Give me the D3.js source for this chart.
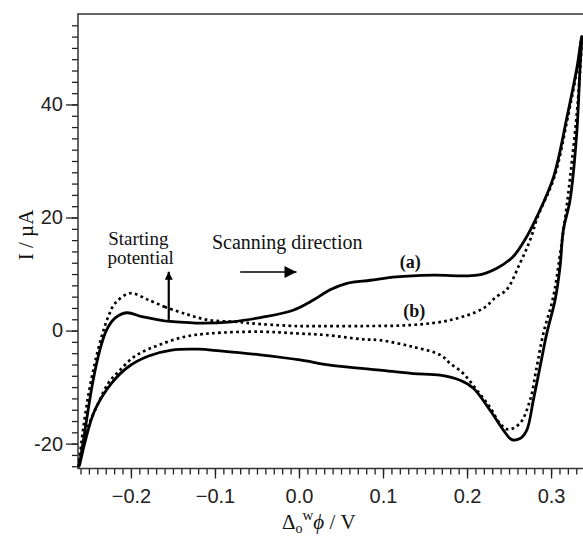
<!DOCTYPE html>
<html>
<head>
<meta charset="utf-8">
<script src="https://cdn.jsdelivr.net/npm/d3@7"></script>
<style>
  body { margin: 0; background: #fff; }
  .tick text { font-family: "Liberation Sans", Arial, sans-serif; font-size: 20px; fill: #222; }
  .serif { font-family: "Liberation Serif", "Times New Roman", serif; fill: #111; }
</style>
</head>
<body>
<svg id="chart" width="583" height="536"></svg>
<script>
/* =========================
   DATA  (potential V, current µA)
========================= */
// (a) solid loop, starting at the starting potential, forward then reverse
const curveA = [
  [-0.160, 1.7], [-0.136, 1.45], [-0.116, 1.3], [-0.080, 1.55], [-0.046, 2.3],
  [-0.007, 3.6], [0.017, 5.4], [0.037, 7.2], [0.057, 8.35], [0.085, 8.9],
  [0.116, 9.5], [0.160, 9.8], [0.212, 9.8], [0.235, 11.0], [0.255, 13.1],
  [0.271, 16.6], [0.283, 20.1], [0.303, 27.2], [0.319, 37.8], [0.331, 46.7],
  [0.3365, 52.0],
  [0.3345, 46.7], [0.3306, 35.0], [0.3226, 23.1], [0.3146, 17.8], [0.3107, 11.3],
  [0.3048, 5.4], [0.2949, -0.5], [0.2869, -6.4], [0.2789, -12.3], [0.2711, -17.6],
  [0.263, -19.1], [0.2532, -19.3], [0.2432, -17.6], [0.2274, -14.1], [0.2075, -10.2],
  [0.1917, -8.8], [0.1679, -7.9], [0.136, -7.6], [0.0964, -7.0], [0.0369, -6.1],
  [0.0012, -5.2], [-0.0464, -4.3], [-0.094, -3.6], [-0.120, -3.3], [-0.1515, -3.45],
  [-0.179, -4.5], [-0.203, -6.4], [-0.223, -9.3], [-0.243, -14.1], [-0.255, -19.9],
  [-0.2615, -24.0],
  [-0.257, -19.9], [-0.251, -14.1], [-0.245, -8.8], [-0.237, -3.45], [-0.229, 0.1],
  [-0.219, 2.2], [-0.205, 3.15], [-0.187, 2.45], [-0.160, 1.7]
];

// (b) dotted loop
const curveB = [
  [-0.160, 4.2], [-0.136, 3.0], [-0.108, 1.86], [-0.076, 1.56], [-0.046, 1.15],
  [-0.003, 0.8], [0.013, 0.8], [0.0765, 0.8], [0.132, 0.97], [0.180, 1.86],
  [0.219, 3.9], [0.235, 6.0], [0.247, 7.2], [0.263, 11.9], [0.275, 16.0],
  [0.284, 20.1], [0.304, 27.2], [0.320, 37.8], [0.3315, 46.7], [0.3365, 52.0],
  [0.332, 40.8], [0.325, 30.2], [0.318, 21.3], [0.3107, 13.5], [0.3027, 6.0],
  [0.2908, -0.5], [0.283, -6.4], [0.275, -12.3], [0.263, -16.4], [0.249, -17.5],
  [0.239, -16.4], [0.227, -13.5], [0.2115, -10.5], [0.1956, -7.6], [0.1798, -5.8],
  [0.168, -4.3], [0.136, -2.9], [0.0964, -1.7], [0.0765, -1.56], [0.033, -0.8],
  [-0.003, -0.5], [-0.046, -0.2], [-0.106, -0.5], [-0.136, -1.1], [-0.1675, -2.6],
  [-0.195, -4.5], [-0.215, -7.3], [-0.227, -9.3], [-0.239, -12.9], [-0.251, -17.0],
  [-0.2587, -21.2], [-0.2625, -24.0],
  [-0.261, -22.3], [-0.257, -17.6], [-0.251, -11.7], [-0.243, -5.8], [-0.235, -1.1],
  [-0.227, 2.45], [-0.219, 4.8], [-0.201, 6.6], [-0.179, 5.4], [-0.160, 4.2]
];

const xMajor = [-0.2, -0.1, 0.0, 0.1, 0.2, 0.3];
const xMinor = d3.range(-26, 34).map(d => d / 100);
const yMajor = [-20, 0, 20, 40];
const yMinor = d3.range(-24, 56, 2);

const startPotential = -0.155;

/* =========================
   SETUP
========================= */
const svg = d3.select("#chart");
const mLeft = 78, mRight = 583, mTop = 14, mBottom = 468.5;

const x = d3.scaleLinear().domain([-0.263, 0.338]).range([mLeft, mRight]);
const y = d3.scaleLinear().domain([-24.4, 56]).range([mBottom, mTop]);

/* ===== AXES ===== */
svg.append("g")
  .attr("transform", `translate(0,${mBottom})`)
  .call(d3.axisBottom(x).tickValues(xMinor).tickSize(6).tickFormat(""));
svg.append("g")
  .attr("transform", `translate(0,${mBottom})`)
  .call(d3.axisBottom(x).tickValues(xMajor).tickSize(10).tickPadding(10)
    .tickFormat(d3.format(".1f")));

svg.append("g")
  .attr("transform", `translate(${mLeft},0)`)
  .call(d3.axisLeft(y).tickValues(yMinor).tickSize(6).tickFormat(""));
svg.append("g")
  .attr("transform", `translate(${mLeft},0)`)
  .call(d3.axisLeft(y).tickValues(yMajor).tickSize(12).tickPadding(3)
    .tickFormat(d => d));

svg.selectAll(".domain").remove();
svg.selectAll(".tick line").attr("stroke", "#222").attr("stroke-width", 1.3);

// frame
svg.append("rect")
  .attr("x", mLeft).attr("y", mTop)
  .attr("width", mRight - mLeft + 5).attr("height", mBottom - mTop)
  .attr("fill", "none").attr("stroke", "#333").attr("stroke-width", 1.5);

/* =========================
   CURVES
========================= */
const line = d3.line()
  .x(d => x(d[0]))
  .y(d => y(d[1]))
  .curve(d3.curveCatmullRom.alpha(0.5));

svg.append("path")
  .datum(curveB)
  .attr("d", line)
  .attr("fill", "none")
  .attr("stroke", "#000")
  .attr("stroke-width", 2.7)
  .attr("stroke-dasharray", "2.7,3.3");

svg.append("path")
  .datum(curveA)
  .attr("d", line)
  .attr("fill", "none")
  .attr("stroke", "#000")
  .attr("stroke-width", 2.8)
  .attr("stroke-linejoin", "round");

/* =========================
   ANNOTATIONS
========================= */
const defs = svg.append("defs");
defs.append("marker")
  .attr("id", "head")
  .attr("viewBox", "0 0 10 10")
  .attr("refX", 10).attr("refY", 5)
  .attr("markerUnits", "userSpaceOnUse")
  .attr("markerWidth", 20).attr("markerHeight", 12)
  .attr("orient", "auto")
  .append("path")
  .attr("d", "M0,0 L10,5 L0,10 Z")
  .attr("fill", "#000");
defs.append("marker")
  .attr("id", "headUp")
  .attr("viewBox", "0 0 10 10")
  .attr("refX", 10).attr("refY", 5)
  .attr("markerUnits", "userSpaceOnUse")
  .attr("markerWidth", 18).attr("markerHeight", 8)
  .attr("orient", "auto")
  .append("path")
  .attr("d", "M0,0 L10,5 L0,10 Z")
  .attr("fill", "#000");

// starting potential arrow
svg.append("line")
  .attr("x1", x(startPotential)).attr("y1", y(1.9))
  .attr("x2", x(startPotential)).attr("y2", y(10.4))
  .attr("stroke", "#000").attr("stroke-width", 2.2)
  .attr("marker-end", "url(#headUp)");

// scanning direction arrow
svg.append("line")
  .attr("x1", x(-0.070)).attr("y1", y(10.35))
  .attr("x2", x(-0.003)).attr("y2", y(10.35))
  .attr("stroke", "#000").attr("stroke-width", 1.6)
  .attr("marker-end", "url(#head)");

svg.append("text").attr("class", "serif")
  .attr("x", x(-0.227)).attr("y", y(15.2))
  .attr("font-size", 19).text("Starting");
svg.append("text").attr("class", "serif")
  .attr("x", x(-0.228)).attr("y", y(11.7))
  .attr("font-size", 19).text("potential");
svg.append("text").attr("class", "serif")
  .attr("x", x(-0.1036)).attr("y", y(14.4))
  .attr("font-size", 20).text("Scanning direction");

svg.append("text").attr("class", "serif")
  .attr("x", x(0.12)).attr("y", y(11.1))
  .attr("font-size", 18).attr("font-weight", "bold").text("(a)");
svg.append("text").attr("class", "serif")
  .attr("x", x(0.124)).attr("y", y(2.4))
  .attr("font-size", 18).attr("font-weight", "bold").text("(b)");

/* ===== AXIS LABELS ===== */
svg.append("text").attr("class", "serif")
  .attr("transform", "translate(33,235) rotate(-90)")
  .attr("text-anchor", "middle")
  .attr("font-size", 21)
  .text("I / µA");

const xl = svg.append("text").attr("class", "serif")
  .attr("x", 282).attr("y", 529)
  .attr("font-size", 21);
xl.append("tspan").text("Δ");
xl.append("tspan").attr("dy", 4).attr("font-size", 14).text("o");
xl.append("tspan").attr("dy", -13).attr("font-size", 15).text("w");
xl.append("tspan").attr("dy", 9).attr("font-style", "italic").text("ϕ");
xl.append("tspan").text(" / V");
</script>
</body>
</html>
